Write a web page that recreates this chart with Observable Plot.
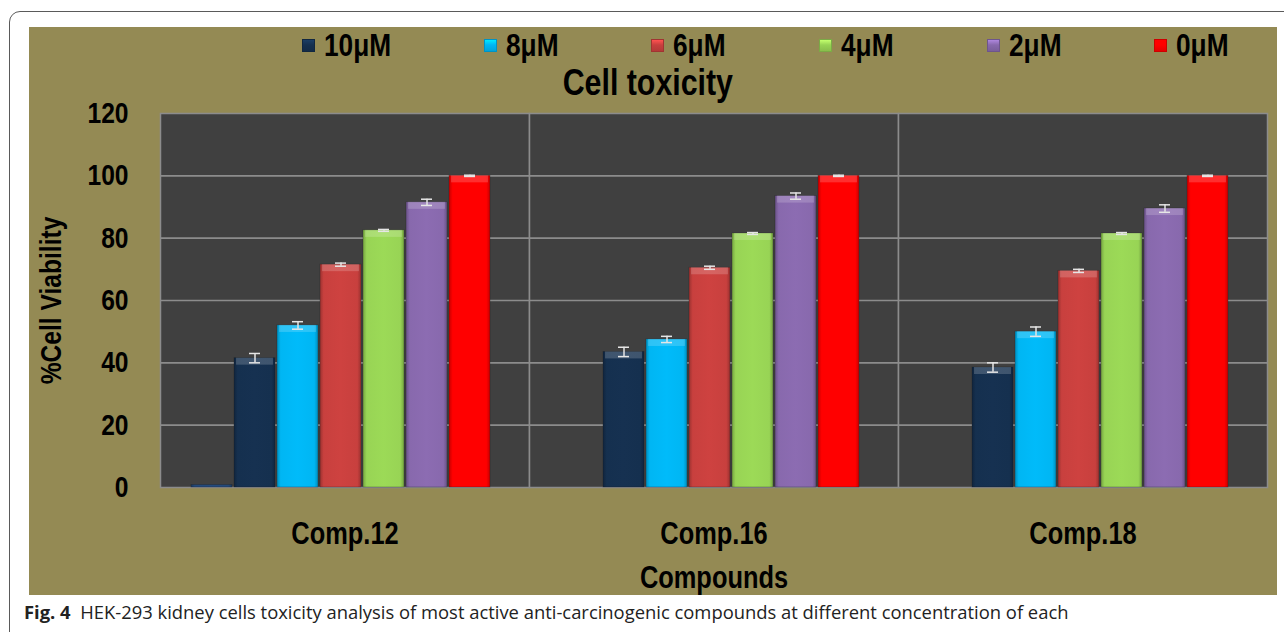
<!DOCTYPE html>
<html>
<head>
<meta charset="utf-8">
<script src="https://cdn.jsdelivr.net/npm/d3@7"></script>
<script src="https://cdn.jsdelivr.net/npm/@observablehq/plot@0.6"></script>
<style>
  html, body { margin: 0; padding: 0; background: #fff; width: 1284px; height: 632px; overflow: hidden; position: relative; }
  #border { position: absolute; left: 9px; top: 11px; width: 1400px; height: 800px; border: 1.5px solid #5a5a5a; border-radius: 11px; box-sizing: border-box; }
  #panel { position: absolute; left: 29px; top: 27px; width: 1248px; height: 568px; background: #948a54; }
  .cf { font-family: "Liberation Sans", Arial, sans-serif; font-weight: bold; color: #000; }
  #legend { position: absolute; left: 273px; top: 0px; display: flex; align-items: center; gap: 93px; font-size: 32px; line-height: 36px; white-space: nowrap; }
  .item { display: flex; align-items: center; }
  .sw { width: 13px; height: 13px; margin-right: 9px; box-sizing: border-box; }
  .narrow { display: inline-block; transform: scaleX(0.82); transform-origin: 0 50%; }
  #title { position: absolute; left: 0; top: 36px; width: 1238px; text-align: center; font-size: 37px; line-height: 40px; }
  #title span { display: inline-block; transform: scaleX(0.82); transform-origin: 50% 50%; }
  #chart { position: absolute; left: 0; top: 73px; }
  #caption { position: absolute; left: 24px; top: 600px; font-family: "Open Sans", "Noto Sans", sans-serif; font-size: 18.4px; line-height: 24px; color: #222; white-space: nowrap; }
  #caption b { font-weight: bold; }
</style>
</head>
<body>
<div id="border"></div>
<div id="panel">
  <div id="legend" class="cf"></div>
  <div id="title" class="cf"><span>Cell toxicity</span></div>
  <div id="chart"></div>
</div>
<div id="caption"><b>Fig. 4</b>&nbsp; HEK-293 kidney cells toxicity analysis of most active anti-carcinogenic compounds at different concentration of each</div>
<script>
// ---- data ----
const compounds = ["Comp.12", "Comp.16", "Comp.18"];
const series = ["unlabelled", "10μM", "8μM", "6μM", "4μM", "2μM", "0μM"];
const legendSeries = ["10μM", "8μM", "6μM", "4μM", "2μM", "0μM"];
const colors = ["#23497a", "#15304f", "#00b6f3", "#c8403e", "#98d455", "#8869ad", "#ff0000"];

const vUnlabelled = [0.8, 0, 0];
const v10 = [41.5, 43.5, 38.5];
const v8 = [52, 47.5, 50];
const v6 = [71.5, 70.5, 69.5];
const v4 = [82.5, 81.5, 81.5];
const v2 = [91.5, 93.5, 89.5];
const v0 = [100, 100, 100];

const eUnlabelled = [0, 0, 0];
const e10 = [1.5, 1.5, 1.5];
const e8 = [1.2, 1.0, 1.5];
const e6 = [0.5, 0.5, 0.5];
const e4 = [0.3, 0.3, 0.3];
const e2 = [1.0, 1.0, 1.2];
const e0 = [0.2, 0.2, 0.2];

const yTicks = [0, 20, 40, 60, 80, 100, 120];
const gridTicks = [20, 40, 60, 80, 100];

const valueSets = [vUnlabelled, v10, v8, v6, v4, v2, v0];
const errorSets = [eUnlabelled, e10, e8, e6, e4, e2, e0];

const data = [];
series.forEach((s, si) => {
  compounds.forEach((c, ci) => {
    data.push({compound: c, series: s, value: valueSets[si][ci], err: errorSets[si][ci]});
  });
});
const withErr = data.filter(d => d.err > 0);
const NARROW = 0.82;

// ---- legend (HTML) ----
const legend = document.getElementById("legend");
legendSeries.forEach(s => {
  const i = series.indexOf(s);
  const item = document.createElement("div");
  item.className = "item";
  const sw = document.createElement("div");
  sw.className = "sw";
  sw.style.background = `linear-gradient(180deg, ${d3.color(colors[i]).brighter(0.7)} 0%, ${colors[i]} 45%, ${d3.color(colors[i]).darker(0.3)} 100%)`;
  sw.style.border = `1px solid ${d3.color(colors[i]).darker(0.6)}`;
  const t = document.createElement("span");
  t.className = "narrow";
  t.textContent = s;
  item.appendChild(sw);
  item.appendChild(t);
  legend.appendChild(item);
  const w = t.getBoundingClientRect().width; // already scaled width
  t.style.marginRight = `${-(t.offsetWidth - w)}px`;
});

// ---- chart ----
const font = '"Liberation Sans", Arial, sans-serif';
const gradIds = series.map((s, i) => `grad${i}`);

const chart = Plot.plot({
  width: 1248,
  height: 495,
  marginTop: 13,
  marginBottom: 108,
  marginLeft: 131,
  marginRight: 10,
  style: {fontFamily: font, fontWeight: "bold", color: "#000", background: "transparent", overflow: "visible"},
  fx: {domain: compounds, padding: 0},
  x: {domain: series, paddingInner: 0.04, paddingOuter: 0.78, align: 0.44, axis: null},
  y: {domain: [0, 120]},
  color: {domain: series, range: gradIds.map(id => `url(#${id})`)},
  marks: [
    Plot.frame({fill: "#404040", stroke: "#8c8c8c", strokeWidth: 1.5}),
    Plot.gridY(gridTicks, {stroke: "#8c8c8c", strokeOpacity: 1, strokeWidth: 1.6}),
    Plot.barY(data, {fx: "compound", x: "series", y: "value", fill: "series", stroke: "#1a1a1a", strokeOpacity: 0.35, strokeWidth: 0.8}),
    Plot.barY(data.filter(d => d.value > 2), {fx: "compound", x: "series", y1: "value", y2: "value", insetBottom: -7, insetLeft: 2, insetRight: 2, fill: "#ffffff", fillOpacity: 0.18}),
    Plot.ruleX(withErr, {fx: "compound", x: "series", y1: d => d.value - d.err, y2: d => d.value + d.err, stroke: "#e6e6e6", strokeWidth: 1.5}),
    Plot.tickY(withErr, {fx: "compound", x: "series", y: d => d.value + d.err, stroke: "#e6e6e6", strokeWidth: 1.5, insetLeft: 15, insetRight: 15}),
    Plot.tickY(withErr, {fx: "compound", x: "series", y: d => d.value - d.err, stroke: "#e6e6e6", strokeWidth: 1.5, insetLeft: 15, insetRight: 15}),
    Plot.axisY({ticks: yTicks, tickSize: 0, tickPadding: 32, fontSize: 30, label: "%Cell Viability", labelAnchor: "center", labelArrow: "none", labelOffset: 121}),
    Plot.axisFx({anchor: "bottom", tickSize: 0, tickPadding: 34, fontSize: 31, label: "Compounds", labelAnchor: "center", labelOffset: 100})
  ]
});

const svgEl = chart.tagName.toLowerCase() === "svg" ? chart : chart.querySelector("svg");
const svg = d3.select(svgEl);

// gradients for the bevelled bars
const defs = svg.insert("defs", ":first-child");
series.forEach((s, i) => {
  const base = d3.color(colors[i]);
  const g = defs.append("linearGradient").attr("id", gradIds[i]).attr("x1", 0).attr("x2", 1).attr("y1", 0).attr("y2", 0);
  g.append("stop").attr("offset", "0%").attr("stop-color", base.darker(0.7));
  g.append("stop").attr("offset", "9%").attr("stop-color", base);
  g.append("stop").attr("offset", "50%").attr("stop-color", base.brighter(0.08));
  g.append("stop").attr("offset", "91%").attr("stop-color", base);
  g.append("stop").attr("offset", "100%").attr("stop-color", base.darker(0.7));
});

// condensed (Arial Narrow-like) text: squeeze each text along its own writing direction
svg.selectAll("text").each(function () {
  const x = +this.getAttribute("x") || 0;
  const y = +this.getAttribute("y") || 0;
  const t = this.getAttribute("transform") || "";
  this.setAttribute("transform", `${t} translate(${x},${y}) scale(${NARROW},1) translate(${-x},${-y})`);
});

document.getElementById("chart").appendChild(chart);
</script>
</body>
</html>
